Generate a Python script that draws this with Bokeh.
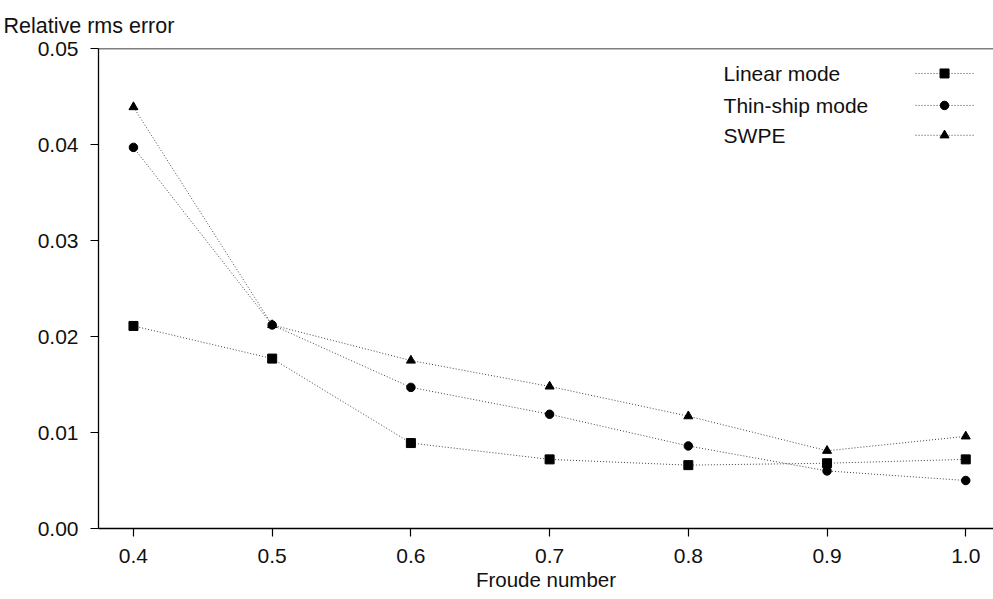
from bokeh.plotting import figure
from bokeh.models import FixedTicker, Span, Label, PrintfTickFormatter, Range1d
from bokeh.embed import file_html
from bokeh.resources import INLINE

froude = [0.4, 0.5, 0.6, 0.7, 0.8, 0.9, 1.0]
linear_mode = [0.0211, 0.0177, 0.0089, 0.0072, 0.0066, 0.0068, 0.0072]
thin_ship_mode = [0.0397, 0.0212, 0.0147, 0.0119, 0.0086, 0.0060, 0.0050]
swpe = [0.0439, 0.0212, 0.0175, 0.0148, 0.0117, 0.0081, 0.0096]
series_names = ["Linear mode", "Thin-ship mode", "SWPE"]
x_ticks = [0.4, 0.5, 0.6, 0.7, 0.8, 0.9, 1.0]
y_ticks = [0.00, 0.01, 0.02, 0.03, 0.04, 0.05]

FONT = "Liberation Sans"
FS = "21px"

p = figure(width=993, height=599, output_backend="svg", toolbar_location=None,
           x_range=Range1d(0.3748, 1.02), y_range=Range1d(0.0, 0.05),
           min_border_left=98, min_border_top=47, min_border_bottom=71, min_border_right=0)
p.outline_line_color = None
p.grid.visible = False
p.background_fill_color = "white"
p.border_fill_color = "white"

p.title.text = "Relative rms error"
p.title.align = "left"
p.title.offset = -95
p.title.standoff = 22
p.title.text_font = FONT
p.title.text_font_size = "21.5px"
p.title.text_font_style = "normal"
p.title.text_color = "#111111"

for ax in (p.xaxis[0], p.yaxis[0]):
    ax.major_tick_out = 8
    ax.major_tick_in = 0
    ax.minor_tick_line_color = None
    ax.axis_line_color = "black"
    ax.axis_line_width = 1.3
    ax.major_tick_line_color = "black"
    ax.major_tick_line_width = 1.2
    ax.major_label_text_font = FONT
    ax.major_label_text_font_size = FS
    ax.major_label_text_color = "#111111"
    ax.axis_label_text_font = FONT
    ax.axis_label_text_font_style = "normal"
    ax.axis_label_text_font_size = "20.5px"
    ax.axis_label_text_color = "#111111"

p.xaxis.ticker = FixedTicker(ticks=x_ticks)
p.yaxis.ticker = FixedTicker(ticks=y_ticks)
p.xaxis.formatter = PrintfTickFormatter(format="%.1f")
p.yaxis.formatter = PrintfTickFormatter(format="%.2f")
p.xaxis.axis_label = "Froude number"
p.xaxis.major_label_standoff = 12
p.xaxis.axis_label_standoff = 2
p.yaxis.major_label_standoff = 12

p.add_layout(Span(location=0.05, dimension="width", line_color="black", line_width=1.3))

dash = "1 2"
line_kw = dict(line_color="#444444", line_width=1, line_dash=dash)

p.line(froude, linear_mode, **line_kw)
p.line(froude, thin_ship_mode, **line_kw)
p.line(froude, swpe, **line_kw)
p.scatter(froude, linear_mode, marker="square", size=9, color="black")
p.scatter(froude, thin_ship_mode, marker="circle", size=8.5, color="black")
p.scatter(froude, swpe, marker="triangle", size=9, color="black")

# legend (label left, sample on right)
leg_y = [0.0474, 0.04407, 0.04096]
markers = ["square", "circle", "triangle"]
msizes = [9, 8.5, 9]
for name, yy, mk, ms in zip(series_names, leg_y, markers, msizes):
    p.add_layout(Label(x=0.8254, y=yy, text=name, text_font=FONT, text_font_size=FS,
                       text_color="#111111", text_baseline="middle"))
    p.line([0.9638, 1.0056], [yy, yy], **line_kw)
    p.scatter([0.9847], [yy], marker=mk, size=ms, color="black")

open("out.html", "w").write(file_html(p, INLINE))
